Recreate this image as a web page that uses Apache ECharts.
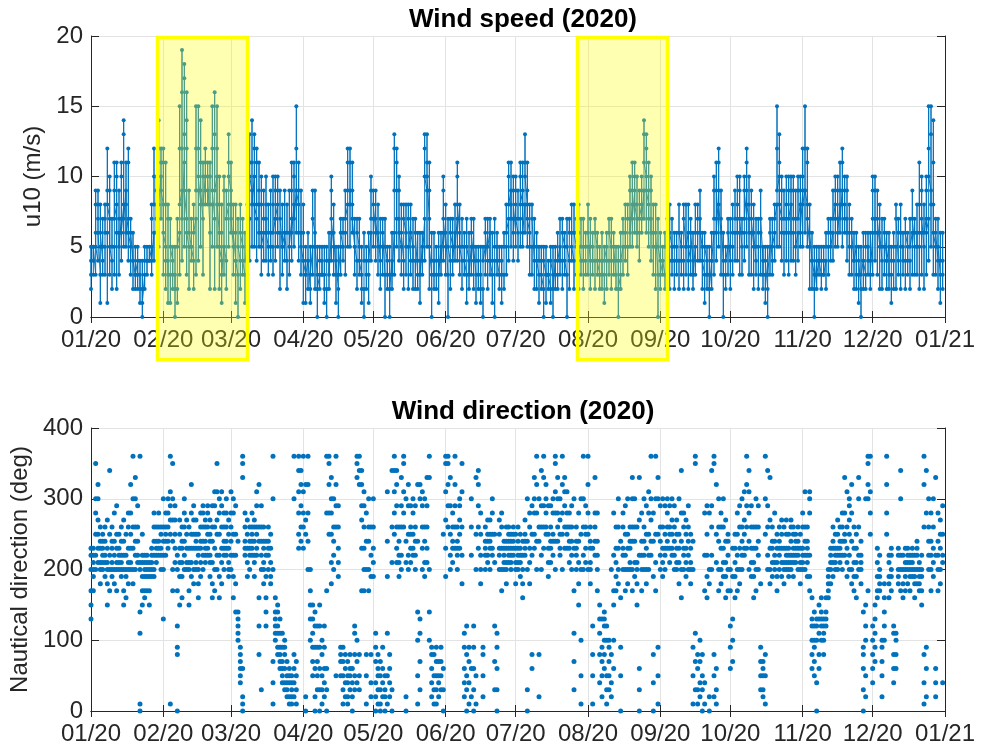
<!DOCTYPE html>
<html>
<head>
<meta charset="utf-8">
<script src="https://cdn.jsdelivr.net/npm/echarts@6/dist/echarts.min.js"></script>
<style>
html,body{margin:0;padding:0;background:#fff}
#main{width:983px;height:749px}
</style>
</head>
<body>
<div id="main"></div>
<script>
// one string per day, each char = one reading (speed in m/s, direction in tens of degrees)
var CODE = '0123456789abcdefghijklmnopqrstuvwxyz~';

var speedJan = "2453 3545 36985 47986 31586 4375 53786 619c8 73a95 4275 53b97 82ab6 63795 74ab6 85ed7 95b86 74cb6 5376 4264 3253 4253 3142 2041 3254 4354 454 53874 64ca8 86a97 95ec8 a7cb9".split(' ');
var speedFeb = "83cb6 52b84 41873 3175 4253 3052 2175 63fc8 94jgc7 b5ihd9 73gec6 5296 5475 4286 73fc9 94fca 85eb9 73ba8 a8cb9 98ba 62ba8 85fc9 72gd9 a5fc8 62a85 41863 53a95 4297 85dba".split(' ');
var speedMar = "96b87 5386 41864 3075 4286 5374 3164 5386 74dba 95eb8 a5dc8 74cb8 85b96 63a85 6497 74a86 5386 6495 53a86 74a97 85a96 6297 5385 6496 4286 6395 74b96 85ba7 96fc9 84b96 6395".split(' ');
var speedApr = "41864 3153 4264 2153 5397 6295 3052 3254 4353 3152 2054 4263 64a97 5386 3154 2053 5376 5476 6397 85cb9 95cb8 86b97 5375 4276 5374 3152 2064 4253 3164 64a97".split(' ');
var speedMay = "7598 6497 5386 4275 5376 3075 4253 3052 4263 63dc9 95cb7 74a96 5386 4287 6385 5287 4386 5274 4276 3264 4163 5364 74dca 95dba 72b95 3064 4263 3254 4163 5364 64a97".split(' ');
var speedJun = "5386 3075 4276 5374 6485 74ba8 6385 4275 5364 3175 4263 5376 4275 3154 4253 3152 2054 5376 4275 6374 3164 4075 5364 3254 4153 3265 5386 74ba8 95b87 74a96".split(' ');
var speedJul = "85a97 6497 75ba8 95b86 86dba 85b97 6385 5387 4275 5264 3154 4253 2054 3153 3243 2154 3052 4253 3264 5374 4276 5364 3075 4276 6485 4286 5376 6285 4375 5274 4365".split(' ');
var speedAug = "5386 4275 5364 4276 5364 3254 4263 3154 5264 4376 5274 4365 3254 4052 3264 5376 6485 5387 75a96 85b97 96ba8 75a86 6497 86a97 97edb a6dc9 85b97 74a96 6385 5286 3075".split(' ');
var speedSep = "4263 4354 3265 5376 4286 5374 4265 5364 4286 5364 4287 5385 6284 5376 4263 5386 6487 7496 5264 3165 4253 3052 4264 63a97 74b96 95cb8 6397 4063 3254 5376".split(' ');
var speedOct = "4275 5386 6497 74a86 63a97 5376 64a97 95cb8 73a86 6397 5286 4375 5276 6397 4253 3154 2053 5376 4375 6487 85fc9 a5db8 74a96 6397 74a86 63a97 84a96 64a97 7395 64a97 85a96".split(' ');
var speedNov = "95ca8 96fc9 85cb7 5286 4264 3052 4253 4354 3254 4353 4265 5376 6475 6497 85a97 75a96 86b97 95cb8 86a97 74a96 6385 5376 4264 5263 3154 2053 4264 3265 5364 4263".split(' ');
var speedDec = "63a97 74a96 6397 5286 4275 5376 4264 5263 3154 4265 5287 4376 6285 5364 4276 5364 4275 6397 5376 6385 52b86 63a97 5286 73a96 74fca 95fd8 83eb6 5376 4275 3164 4263".split(' ');

var dirJan = "dfhkmn hjklmn kmpsuz lnpruw iklnoq klmnop jlmoq fiklnr hkmpy jklnoq ikmos hklnpt klmnp jklmoq fhkmor gjkmp iklnqs klnpsw iknqu~ kmoqux lmoqt 01bekl~ fhjlmp ghjklm hjklm fhjkl jklmn jkmoqs lmnoq mnoqs kmnpq".split(' ');
var dirFeb = "dkmoqu mopqs noqsu 1prtv~ hkoruz lnprt 089chkm fjlnpr gjlnoq kmoqsu klnpr fhklnq jlnpsw iknprt klnopr gikmnp jlnoqs kmoqst lmnoqr mnpqst jlmopr giloqt hknqtv kmprvz gjmpsu ilnqtv kmnoqs mnoqsu jklnpr".split(' ');
var dirMar = "kmoqsv gjmpsu eimpt abcdeo 456789 0126xz~ mnoqs jlnpr kmnoq mnopqs jlmoqr mnpqtv 8cgoqw 3kmoqt iklnoq cegjmo kmnoq ijlnp 147ku~ abcdeg 89bcef 6789bd 45679b 34689a 23457 12456 12345 2468u~ 1357 npsvy~ oqtwy".split(' ');
var dirApr = "nqsv~ 02prw kosw~ adfhk 579bdf 0269ce 3579c 0369cf 1358a 2469c 036hs~ pswz~ ilpsux kmoqu 5qtw~ jlnqt 5789 13579 2468 12457 3568 0246 358bc 47axz~ 358wy~ hnrtwy hknqtv 158kos hkoqu 248jmq".split(' ');
var dirMay = "jlnqu 02479b 13568 01357 2469 0235 15bjov 2468 03lqy psvy~ lnqtwy jlmoq kmqtx qsvz~ 02lou kmptw lnpqt mnpsu kmoqt 15aeow 37bduw knqtv jloqu lnqtx aekx~ 24689 1358 13579 2457 3579 036p".split(' ');
var dirJun = "jnrvz~ qtwz~ kmptx lnoqs nqtw~ kmnoq nprtu imqvz 2469b 0358c 1479 26mqu 0369c 15kpx nqtwy ikmps 2589 kmnoq lmopr knopr mnpsu 37clp 0369b kmnpr hknqs klmno iklnoq lmnopq klmnop mnopq".split(' ');
var dirJul = "iklnp klmnoq jlmnp gikmo mnopr 03kou ilnqs 68mpt npsux kosw~ 28oqu kmqty nqtx~ pqsuw jlnpt lnoqt mopsu kosvz~ oqsux mnpru kpsw~ nqtvx npqsv lnoqs kmoqt 37bhnu kmnoq filos 15akpu kmqu~ lnpqt".split(' ');
var dirAug = "kpsw~ iklnoq 158cn moqsx hkmos 48bdf 2579d 68acde 135ac 3579a 248k 6afhms hjlnq iknqu 059go kmnqs hkmpt iknpu klnoq hkoqux jloqu fiklq 036mrx hkmos kmoqu iknpt kmpsv moru~ 048jos hlpu~ 159pux".split(' ');
var dirSep = "kmoqt jlnqu kmnpt noqsu lnpqt mnpru kmoqt klnpr ilnpu gkosy kmnqs jlnpr kmoqt iklnp 159ko 37bz~ 1368 247a 0358 14hms gjmpt 02iks kmqty 258z~ 136lpw hkoqu iknqs jlnqu gjlor hkmop".split(' ');
var dirOct = "69chk 7adjn gjlnp hkmps iknqt kmoqu mnprv nqtw~ kosvy jlnqt gjlnq hknqu kmoqt 3579i 23567 158pu~ kmqty iknrx jlnoq klmos hjlnp kmnoq jlnpr iklnq klmnpr jklmnp klmoqr jlmnpq lmnop kmnoq iklnp".split(' ');
var dirNov = "klmnqs kmoqv jlmnoq hjmsuv 68acdg 579ace 04acd 68bdf acdeg 8abcd cdeg ghijk iklmn jlnoq klmnp kmnpr lmnoq kmoqs mopsx jlnqv kmprtu ikosw hjlnq gjlnp kmqux iklmo 03689e 25acfu huwz~ psv~".split(' ');
var dirDec = "468ac 79bdf ghjln hijkm 2579a acegi psw~ gijlm hjkmn 468bc 68ab ijkmn hkmuy gikm hjkln iklmn hjklm jklmn gijkm ikmno hijkl fhjkm 148qw~ 269sy kmoqu hkmos jlnqu 246mx hkmos iknpr 4lmpt".split(' ');

// highlighted periods (start, end) as [month, day, hour]
var boxStarts = [[0, 29, 12], [6, 27, 12]];
var boxEnds = [[2, 8, 2], [8, 4, 2]];

function expand(months, scale) {
  var out = [];
  months.forEach(function (days, m) {
    days.forEach(function (s, i) {
      var t = new Date(2020, m, 1 + i).getTime();
      for (var k = 0; k < s.length; k++) {
        out.push([t, CODE.indexOf(s.charAt(k)) * scale]);
      }
    });
  });
  return out;
}

var speedData = expand([speedJan, speedFeb, speedMar, speedApr, speedMay, speedJun,
  speedJul, speedAug, speedSep, speedOct, speedNov, speedDec], 1);
var dirData = expand([dirJan, dirFeb, dirMar, dirApr, dirMay, dirJun,
  dirJul, dirAug, dirSep, dirOct, dirNov, dirDec], 10);

var tMin = new Date(2020, 0, 1).getTime();
var tMax = new Date(2021, 0, 1).getTime();
var AX = '#262626';
var GRIDC = '#e3e3e3';
var FONT = 'Liberation Sans, Arial, sans-serif';

function pad(n) { return (n < 10 ? '0' : '') + n; }

function xAxisCfg(gi, top) {
  return {
    type: 'time', gridIndex: gi, position: top ? 'top' : 'bottom',
    min: tMin, max: tMax, splitNumber: 12,
    minInterval: 28 * 864e5, maxInterval: 31 * 864e5,
    axisLine: {show: true, lineStyle: {color: AX, width: 1}},
    axisTick: {show: true, inside: true, length: 6, lineStyle: {color: AX}},
    axisLabel: top ? {show: false} : {
      show: true, color: AX, fontSize: 24, fontFamily: FONT, margin: 11,
      showMinLabel: true, showMaxLabel: true, hideOverlap: false,
      formatter: function (v) {
        var d = new Date(v);
        return pad(d.getMonth() + 1) + '/' + pad(d.getFullYear() % 100);
      }
    },
    splitLine: {show: !top, lineStyle: {color: GRIDC, width: 1}},
    minorTick: {show: false}
  };
}

function yAxisCfg(gi, right, max, interval, name, gap) {
  return {
    type: 'value', gridIndex: gi, position: right ? 'right' : 'left',
    min: 0, max: max, interval: interval,
    name: right ? '' : name, nameLocation: 'middle', nameGap: gap,
    nameTextStyle: {color: AX, fontSize: 24, fontFamily: FONT},
    axisLine: {show: true, lineStyle: {color: AX, width: 1}},
    axisTick: {show: true, inside: true, length: 8, lineStyle: {color: AX}},
    axisLabel: right ? {show: false} : {show: true, color: AX, fontSize: 24, fontFamily: FONT, margin: 8},
    splitLine: {show: !right, lineStyle: {color: GRIDC, width: 1}}
  };
}

var chart = echarts.init(document.getElementById('main'), null, {renderer: 'canvas'});
chart.setOption({
  animation: false,
  backgroundColor: '#fff',
  title: [
    {text: 'Wind speed (2020)', left: 518, top: 2, textAlign: 'center',
      textStyle: {fontSize: 26, fontWeight: 'bold', color: '#000', fontFamily: FONT}},
    {text: 'Wind direction (2020)', left: 518, top: 394, textAlign: 'center',
      textStyle: {fontSize: 26, fontWeight: 'bold', color: '#000', fontFamily: FONT}}
  ],
  grid: [
    {left: 91, top: 36, width: 854, height: 281},
    {left: 91, top: 428, width: 854, height: 283}
  ],
  xAxis: [xAxisCfg(0, false), xAxisCfg(0, true), xAxisCfg(1, false), xAxisCfg(1, true)],
  yAxis: [
    yAxisCfg(0, false, 20, 5, 'u10 (m/s)', 37),
    yAxisCfg(0, true, 20, 5),
    yAxisCfg(1, false, 400, 100, 'Nautical direction (deg)', 53),
    yAxisCfg(1, true, 400, 100)
  ],
  series: [
    {
      type: 'line', xAxisIndex: 0, yAxisIndex: 0, data: speedData,
      symbol: 'circle', symbolSize: 4, showSymbol: true, showAllSymbol: true,
      sampling: null, clip: true,
      lineStyle: {color: '#0072bd', width: 1},
      itemStyle: {color: '#0072bd', borderWidth: 0}
    },
    {
      type: 'scatter', xAxisIndex: 2, yAxisIndex: 2, data: dirData,
      symbol: 'circle', symbolSize: 5, large: false,
      itemStyle: {color: '#0072bd', opacity: 1}
    }
  ]
});

// yellow highlight boxes over the top panel (they run down over the date labels)
var boxes = [];
for (var i = 0; i < boxStarts.length; i++) {
  var a = boxStarts[i], b = boxEnds[i];
  var p0 = chart.convertToPixel({xAxisIndex: 0, yAxisIndex: 0}, [new Date(2020, a[0], a[1], a[2]).getTime(), 19.9]);
  var p1 = chart.convertToPixel({xAxisIndex: 0, yAxisIndex: 0}, [new Date(2020, b[0], b[1], b[2]).getTime(), -3.05]);
  boxes.push({
    type: 'rect', z: 100,
    shape: {x: p0[0], y: p0[1], width: p1[0] - p0[0], height: p1[1] - p0[1]},
    style: {fill: 'rgba(255,255,0,0.3)', stroke: '#ffff00', lineWidth: 3.5}
  });
}
chart.setOption({graphic: boxes});
</script>
</body>
</html>
